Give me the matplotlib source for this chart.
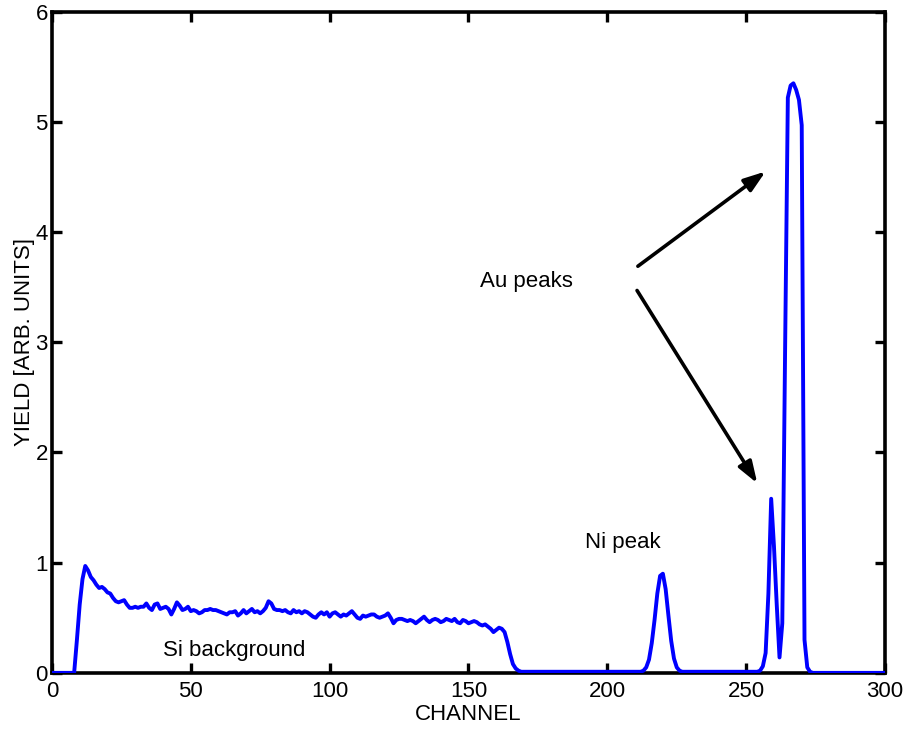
import numpy as np
import matplotlib.pyplot as plt

plt.rcParams['font.family'] = ['Liberation Sans', 'DejaVu Sans']

# RBS spectrum, one yield value per channel (0..300)
lead_in = [0.0] * 8                                   # channels 0-7
si_background = [                                     # channels 8-170
    0.00, 0.30, 0.62, 0.85, 0.97, 0.93, 0.87, 0.84, 0.80, 0.77,
    0.78, 0.76, 0.73, 0.72, 0.68, 0.65, 0.64, 0.65, 0.66, 0.62,
    0.59, 0.59, 0.60, 0.59, 0.60, 0.60, 0.63, 0.59, 0.57, 0.62,
    0.63, 0.58, 0.59, 0.60, 0.58, 0.53, 0.58, 0.64, 0.61, 0.57,
    0.58, 0.60, 0.56, 0.57, 0.56, 0.54, 0.55, 0.57, 0.57, 0.58,
    0.57, 0.57, 0.56, 0.55, 0.54, 0.53, 0.55, 0.55, 0.56, 0.52,
    0.54, 0.57, 0.54, 0.56, 0.58, 0.55, 0.56, 0.54, 0.56, 0.59,
    0.65, 0.63, 0.58, 0.57, 0.57, 0.56, 0.57, 0.55, 0.54, 0.57,
    0.55, 0.56, 0.54, 0.56, 0.55, 0.53, 0.51, 0.50, 0.53, 0.55,
    0.53, 0.55, 0.51, 0.54, 0.55, 0.53, 0.51, 0.53, 0.52, 0.54,
    0.56, 0.53, 0.50, 0.49, 0.52, 0.51, 0.52, 0.53, 0.53, 0.51,
    0.50, 0.51, 0.52, 0.54, 0.50, 0.45, 0.48, 0.49, 0.49, 0.48,
    0.47, 0.48, 0.47, 0.45, 0.47, 0.49, 0.51, 0.48, 0.46, 0.48,
    0.49, 0.48, 0.46, 0.47, 0.49, 0.48, 0.47, 0.49, 0.46, 0.45,
    0.48, 0.47, 0.45, 0.46, 0.47, 0.46, 0.44, 0.43, 0.44, 0.42,
    0.40, 0.37, 0.39, 0.41, 0.40, 0.37, 0.28, 0.17, 0.08, 0.04,
    0.02, 0.01, 0.01,
]
gap_1 = [0.01] * 41                                   # channels 171-211
ni_peak = [                                           # channels 212-227
    0.01, 0.02, 0.05, 0.12, 0.27, 0.48, 0.72, 0.88, 0.90, 0.76,
    0.52, 0.29, 0.13, 0.05, 0.02, 0.01,
]
gap_2 = [0.01] * 27                                   # channels 228-254
au_peaks = [                                          # channels 255-274
    0.02, 0.06, 0.18, 0.72, 1.58, 1.15, 0.62, 0.14, 0.45, 2.90,
    5.22, 5.33, 5.35, 5.29, 5.20, 4.97, 0.30, 0.05, 0.01, 0.0,
]
tail = [0.0] * 26                                     # channels 275-300

yield_counts = lead_in + si_background + gap_1 + ni_peak + gap_2 + au_peaks + tail
channel = np.arange(len(yield_counts))

fs = 16

fig = plt.figure(figsize=(9.11, 7.29), dpi=100)
ax = fig.add_axes([0.057, 0.077, 0.9145, 0.907])

ax.plot(channel, yield_counts, color='#0000ff', lw=2.8, zorder=3)

ax.set_xlim(0, 300)
ax.set_ylim(0, 6)
ax.set_xticks([0, 50, 100, 150, 200, 250, 300])
ax.set_yticks([0, 1, 2, 3, 4, 5, 6])
ax.tick_params(direction='in', length=7, width=2.4, labelsize=fs,
               top=True, right=True, pad=3)
ax.tick_params(axis='x', pad=6)
for s in ax.spines.values():
    s.set_linewidth(2.6)

ax.set_xlabel('CHANNEL', fontsize=fs, labelpad=1)
ax.set_ylabel('YIELD [ARB. UNITS]', fontsize=fs, labelpad=0)

ax.text(40, 0.2, 'Si background', fontsize=fs, va='center')
ax.text(192, 1.18, 'Ni peak', fontsize=fs, va='center')
ax.text(154, 3.55, 'Au peaks', fontsize=fs, va='center')

arrow = dict(arrowstyle='-|>,head_length=1.3,head_width=0.45', color='black',
             lw=2.6, shrinkA=0, shrinkB=0)
ax.annotate('', xy=(257, 4.55), xytext=(211, 3.69), arrowprops=arrow)
ax.annotate('', xy=(254, 1.72), xytext=(210.7, 3.47), arrowprops=arrow)

fig.savefig('out.png', dpi=100)
